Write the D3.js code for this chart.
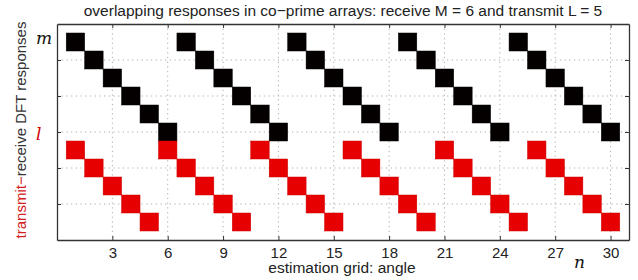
<!DOCTYPE html>
<html>
<head>
  <meta charset="utf-8">
  <title>co-prime arrays</title>
  <script src="https://d3js.org/d3.v7.min.js"></script>
  <style>
    body { margin: 0; background: #fff; }
    text { font-family: "Liberation Sans", Arial, sans-serif; fill: #222; }
    .grid line { stroke: #aaa; stroke-width: 1px; stroke-dasharray: 1.2,3.5; }
    .sym { font-family: "DejaVu Serif", "Liberation Serif", serif; font-style: italic; font-size: 17px; }
  </style>
</head>
<body>
  <svg width="638" height="280"></svg>
  <script>
    // receive M = 6, transmit L = 5
    const gridN = d3.range(1, 31);   // estimation grid index n = 1..30
    const xTicks = [3, 6, 9, 12, 15, 18, 21, 24, 27, 30];
    const yTicks = [2, 4, 6, 8, 10];
    // row of each response square
    const receiveRows = [11, 10, 9, 8, 7, 6, 11, 10, 9, 8, 7, 6, 11, 10, 9, 8, 7, 6,
                         11, 10, 9, 8, 7, 6, 11, 10, 9, 8, 7, 6];
    const transmitRows = [5, 4, 3, 2, 1, 5, 4, 3, 2, 1, 5, 4, 3, 2, 1,
                          5, 4, 3, 2, 1, 5, 4, 3, 2, 1, 5, 4, 3, 2, 1];

    const svg = d3.select('svg');
    const mLeft = 57, mRight = 629, mTop = 24, mBottom = 240;

    const x = d3.scaleLinear().domain([0, 31]).range([mLeft, mRight]);
    const y = d3.scaleLinear().domain([0, 12]).range([mBottom, mTop]);

    // grid
    svg.append('g').attr('class', 'grid')
      .selectAll('line').data(xTicks).enter().append('line')
        .attr('x1', d => x(d)).attr('x2', d => x(d))
        .attr('y1', mTop).attr('y2', mBottom);
    svg.append('g').attr('class', 'grid')
      .selectAll('line').data(yTicks).enter().append('line')
        .attr('y1', d => y(d)).attr('y2', d => y(d))
        .attr('x1', mLeft).attr('x2', mRight);

    const cw = x(1) - x(0), ch = y(0) - y(1);

    svg.append('g').selectAll('rect')
      .data(gridN).enter().append('rect')
        .attr('x', n => x(n - 0.5))
        .attr('y', (n, i) => y(receiveRows[i] + 0.5))
        .attr('width', cw).attr('height', ch)
        .attr('fill', '#050000').attr('stroke', '#000').attr('stroke-width', 0.5);

    svg.append('g').selectAll('rect')
      .data(gridN).enter().append('rect')
        .attr('x', n => x(n - 0.5))
        .attr('y', (n, i) => y(transmitRows[i] + 0.5))
        .attr('width', cw).attr('height', ch)
        .attr('fill', '#e60000').attr('stroke', '#d00000').attr('stroke-width', 0.5);

    // axes (MATLAB-like, ticks inside on all sides)
    const bx = svg.append('g').attr('transform', `translate(0,${mBottom})`)
      .call(d3.axisBottom(x).tickValues(xTicks).tickSizeInner(-4).tickSizeOuter(0).tickPadding(7));
    svg.append('g').attr('transform', `translate(0,${mTop})`)
      .call(d3.axisTop(x).tickValues(xTicks).tickSizeInner(-4).tickSizeOuter(0).tickFormat(''));
    svg.append('g').attr('transform', `translate(${mLeft},0)`)
      .call(d3.axisLeft(y).tickValues(yTicks).tickSizeInner(-4).tickSizeOuter(0).tickFormat(''));
    svg.append('g').attr('transform', `translate(${mRight},0)`)
      .call(d3.axisRight(y).tickValues(yTicks).tickSizeInner(-4).tickSizeOuter(0).tickFormat(''));
    svg.selectAll('.domain').attr('stroke', '#333').attr('stroke-width', 1.3);
    svg.selectAll('.tick line').attr('stroke', '#333');
    bx.selectAll('text').attr('font-size', 15).attr('fill', '#222')
      .attr('font-family', '"Liberation Sans", Arial, sans-serif');

    // title and labels
    svg.append('text').attr('x', 343).attr('y', 16).attr('text-anchor', 'middle')
      .attr('font-size', 15.5).text('overlapping responses in co\u2212prime arrays: receive M = 6 and transmit L = 5');
    svg.append('text').attr('x', 342).attr('y', 273).attr('text-anchor', 'middle')
      .attr('font-size', 15.5).text('estimation grid: angle');

    const yl = svg.append('text').attr('transform', `translate(26,130) rotate(-90)`)
      .attr('text-anchor', 'middle').attr('font-size', 15);
    yl.append('tspan').style('fill', '#d42020').text('transmit\u2212');
    yl.append('tspan').style('fill', '#333').text('receive DFT responses');

    svg.append('text').attr('class', 'sym').attr('x', 36).attr('y', y(10.9)).style('fill', '#111').text('m');
    svg.append('text').attr('class', 'sym').attr('x', 36).attr('y', y(5.55)).style('fill', '#d00000').text('l');
    svg.append('text').attr('class', 'sym').attr('x', 574).attr('y', 268).style('fill', '#111').text('n');
  </script>
</body>
</html>
